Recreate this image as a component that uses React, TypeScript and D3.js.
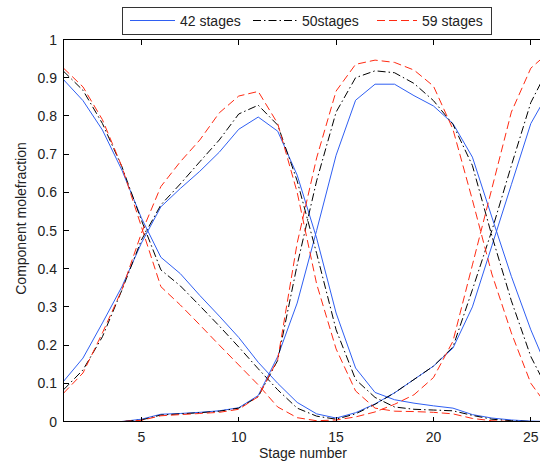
import React from "react";
import * as d3 from "d3";

// Stage numbers along the column
const stages = [1, 2, 3, 4, 5, 6, 7, 8, 9, 10, 11, 12, 13, 14, 15, 16, 17, 18, 19, 20, 21, 22, 23, 24, 25, 26];

// 42 stages: component mole fraction profiles
const s42CompA = [0.895, 0.84, 0.763, 0.658, 0.533, 0.43, 0.387, 0.33, 0.276, 0.22, 0.155, 0.1, 0.05, 0.02, 0.009, 0.023, 0.046, 0.075, 0.11, 0.145, 0.192, 0.3, 0.46, 0.62, 0.78, 0.87];
const s42CompB = [0.105, 0.166, 0.258, 0.353, 0.467, 0.562, 0.61, 0.655, 0.705, 0.765, 0.797, 0.76, 0.645, 0.48, 0.284, 0.14, 0.076, 0.057, 0.048, 0.041, 0.035, 0.018, 0.009, 0.004, 0.001, 0];
const s42CompC = [0, 0, 0, 0, 0.006, 0.019, 0.021, 0.024, 0.028, 0.036, 0.068, 0.17, 0.31, 0.5, 0.697, 0.841, 0.883, 0.883, 0.853, 0.826, 0.78, 0.692, 0.535, 0.38, 0.24, 0.12];
const s42CompD = [0, 0, 0, 0, 0, 0, 0, 0, 0, 0, 0, 0, 0, 0, 0, 0, 0, 0, 0, 0, 0, 0, 0, 0, 0, 0];

// 50 stages
const s50CompA = [0.917, 0.867, 0.78, 0.667, 0.527, 0.397, 0.355, 0.303, 0.25, 0.195, 0.138, 0.083, 0.035, 0.014, 0.006, 0.02, 0.045, 0.075, 0.11, 0.145, 0.195, 0.345, 0.5, 0.67, 0.835, 0.935];
const s50CompB = [0.083, 0.135, 0.222, 0.344, 0.475, 0.567, 0.622, 0.68, 0.737, 0.805, 0.828, 0.776, 0.63, 0.44, 0.24, 0.11, 0.063, 0.038, 0.032, 0.03, 0.028, 0.016, 0.006, 0.002, 0, 0];
const s50CompC = [0, 0, 0, 0, 0.004, 0.017, 0.02, 0.023, 0.027, 0.035, 0.065, 0.16, 0.41, 0.63, 0.81, 0.9, 0.918, 0.913, 0.885, 0.84, 0.778, 0.67, 0.486, 0.316, 0.17, 0.07];
const s50CompD = [0, 0, 0, 0, 0, 0, 0, 0, 0, 0, 0, 0, 0, 0, 0, 0, 0, 0, 0, 0, 0, 0, 0, 0, 0, 0];

// 59 stages
const s59CompA = [0.925, 0.876, 0.79, 0.667, 0.51, 0.353, 0.305, 0.253, 0.2, 0.148, 0.096, 0.038, 0.01, 0.002, 0.004, 0.012, 0.025, 0.045, 0.07, 0.115, 0.21, 0.41, 0.61, 0.81, 0.925, 0.97];
const s59CompB = [0.074, 0.127, 0.232, 0.345, 0.493, 0.615, 0.68, 0.737, 0.808, 0.852, 0.864, 0.78, 0.6, 0.36, 0.19, 0.08, 0.035, 0.027, 0.026, 0.024, 0.02, 0.008, 0.002, 0, 0, 0];
const s59CompC = [0, 0, 0, 0, 0.003, 0.015, 0.018, 0.021, 0.024, 0.032, 0.065, 0.162, 0.467, 0.69, 0.865, 0.935, 0.946, 0.94, 0.92, 0.878, 0.765, 0.58, 0.386, 0.232, 0.1, 0.03];
const s59CompD = [0, 0, 0, 0, 0, 0, 0, 0, 0, 0, 0, 0, 0, 0, 0, 0, 0, 0, 0, 0, 0, 0, 0, 0, 0, 0];

const seriesLabels = ["42 stages", "50stages", "59 stages"];
const xTicks = [5, 10, 15, 20, 25];
const yTicks = [0, 0.1, 0.2, 0.3, 0.4, 0.5, 0.6, 0.7, 0.8, 0.9, 1];

const W = 540;
const H = 466;
const FONT = "'Liberation Sans', Arial, Helvetica, sans-serif";

const series = [
  { label: seriesLabels[0], comps: [s42CompA, s42CompB, s42CompC, s42CompD], color: "#2f5ff2", dash: "none" },
  { label: seriesLabels[1], comps: [s50CompA, s50CompB, s50CompC, s50CompD], color: "#000000", dash: "8,3,1.5,3" },
  { label: seriesLabels[2], comps: [s59CompA, s59CompB, s59CompC, s59CompD], color: "#ff2a12", dash: "8,4" },
];

export default function App() {
  const x = d3.scaleLinear().domain([1, 26]).range([63.5, 550.3]);
  const y = d3.scaleLinear().domain([0, 1]).range([421.5, 39.5]);
  const line = d3
    .line<number>()
    .x((_, i) => x(stages[i]))
    .y((v) => y(v));

  const left = x(1);
  const right = x(26);
  const top = y(1);
  const bottom = y(0);
  const tickLen = 5;

  const legendItems = [
    { x1: 130, x2: 175, tx: 180 },
    { x1: 253, x2: 298, tx: 302 },
    { x1: 377, x2: 417, tx: 422 },
  ];

  return (
    <div style={{ position: "fixed", left: 0, top: 0 }}>
      <svg width={W} height={H} style={{ display: "block", background: "#fff" }} fontFamily={FONT}>
        <rect x={0} y={0} width={W} height={H} fill="#fff" />
        <defs>
          <clipPath id="plotArea">
            <rect x={left} y={top - 2} width={right - left} height={bottom - top + 4} />
          </clipPath>
        </defs>

        {/* data lines */}
        <g clipPath="url(#plotArea)" fill="none">
          {series.map((s, si) =>
            s.comps.map((c, ci) => (
              <path
                key={`${si}-${ci}`}
                d={line(c) || ""}
                stroke={s.color}
                strokeWidth={1}
                strokeDasharray={s.dash === "none" ? undefined : s.dash}
              />
            ))
          )}
        </g>

        {/* axes box and ticks */}
        <g stroke="#000" strokeWidth={1} shapeRendering="crispEdges" fill="none">
          <rect x={left} y={top} width={right - left} height={bottom - top} />
          {xTicks.map((t) => (
            <g key={`xt${t}`}>
              <line x1={x(t)} x2={x(t)} y1={bottom} y2={bottom - tickLen} />
              <line x1={x(t)} x2={x(t)} y1={top} y2={top + tickLen} />
            </g>
          ))}
          {yTicks.map((t) => (
            <g key={`yt${t}`}>
              <line x1={left} x2={left + tickLen} y1={y(t)} y2={y(t)} />
              <line x1={right} x2={right - tickLen} y1={y(t)} y2={y(t)} />
            </g>
          ))}
        </g>

        {/* tick labels */}
        <g fontSize={14} fill="#222">
          {xTicks.map((t) => (
            <text key={`xl${t}`} x={x(t)} y={442} textAnchor="middle">
              {t}
            </text>
          ))}
          {yTicks.map((t) => (
            <text key={`yl${t}`} x={57} y={y(t) + 5} textAnchor="end">
              {String(t)}
            </text>
          ))}
        </g>

        {/* axis titles */}
        <text x={303} y={458} textAnchor="middle" fontSize={14} fill="#222">
          Stage number
        </text>
        <text
          transform={`translate(26, ${(top + bottom) / 2 - 12}) rotate(-90)`}
          textAnchor="middle"
          fontSize={14}
          fill="#222"
        >
          Component molefraction
        </text>

        {/* legend */}
        <g>
          <rect x={122.5} y={7.5} width={369} height={26.5} fill="#fff" stroke="#333" strokeWidth={1} shapeRendering="crispEdges" />
          {series.map((s, i) => (
            <g key={`lg${i}`}>
              <line
                x1={legendItems[i].x1}
                x2={legendItems[i].x2}
                y1={20.5}
                y2={20.5}
                stroke={s.color}
                strokeWidth={1}
                strokeDasharray={s.dash === "none" ? undefined : s.dash}
              />
              <text x={legendItems[i].tx} y={26} fontSize={14} fill="#222">
                {s.label}
              </text>
            </g>
          ))}
        </g>
      </svg>
    </div>
  );
}
